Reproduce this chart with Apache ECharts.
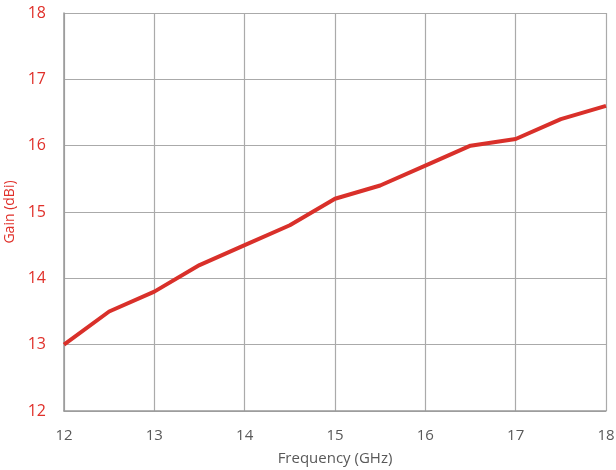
<!DOCTYPE html>
<html>
<head>
<meta charset="utf-8">
<script src="https://cdn.jsdelivr.net/npm/echarts@6/dist/echarts.min.js"></script>
<style>html,body{margin:0;padding:0;background:#fff}#c{width:616px;height:470px}</style>
</head>
<body>
<div id="c"></div>
<script>
var freq = [12, 12.5, 13, 13.5, 14, 14.5, 15, 15.5, 16, 16.5, 17, 17.5, 18];
var gain = [13.0, 13.5, 13.8, 14.2, 14.5, 14.8, 15.2, 15.4, 15.7, 16.0, 16.1, 16.4, 16.6];
var chart = echarts.init(document.getElementById('c'));
chart.setOption({
  animation: false,
  grid: {left: 64, right: 10, top: 13, bottom: 59, outerBoundsMode: 'none', containLabel: false},
  xAxis: {
    type: 'value', min: 12, max: 18, interval: 1,
    name: 'Frequency (GHz)', nameLocation: 'middle', nameGap: 40,
    nameTextStyle: {color: '#595959', fontSize: 15, fontFamily: 'Open Sans'},
    axisLine: {lineStyle: {color: '#999', width: 1.5}},
    axisTick: {show: false},
    axisLabel: {color: '#595959', fontSize: 15, margin: 17, fontFamily: 'Open Sans'},
    splitLine: {show: true, lineStyle: {color: '#aaa', width: 1.2}}
  },
  yAxis: {
    type: 'value', min: 12, max: 18, interval: 1,
    name: 'Gain (dBi)', nameLocation: 'middle', nameGap: 40,
    nameTextStyle: {color: '#e0302a', fontSize: 14, fontFamily: 'Open Sans'},
    axisLine: {show: true, lineStyle: {color: '#999', width: 1.5}},
    axisTick: {show: false},
    axisLabel: {color: '#e0302a', fontSize: 16, margin: 18, fontFamily: 'Open Sans'},
    splitLine: {show: true, lineStyle: {color: '#aaa', width: 1.2}}
  },
  series: [{
    type: 'line',
    data: freq.map(function(f, i){ return [f, gain[i]]; }),
    symbol: 'none',
    lineStyle: {color: '#d9302a', width: 4}
  }]
});
</script>
</body>
</html>
